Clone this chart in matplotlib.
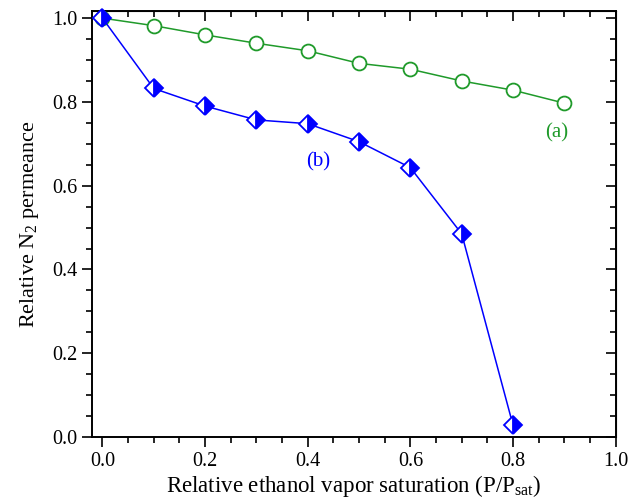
import numpy as np
import matplotlib.pyplot as plt
from matplotlib.ticker import MultipleLocator

plt.rcParams['font.family'] = ['Liberation Serif', 'DejaVu Serif']
plt.rcParams['mathtext.fontset'] = 'custom'
plt.rcParams['mathtext.rm'] = 'Liberation Serif'
plt.rcParams['mathtext.it'] = 'Liberation Serif:italic'

x_a = [0.0, 0.1, 0.2, 0.3, 0.4, 0.5, 0.6, 0.7, 0.8, 0.9]
y_a = [1.0, 0.982, 0.960, 0.940, 0.922, 0.892, 0.878, 0.850, 0.828, 0.797]
x_b = [0.0, 0.1, 0.2, 0.3, 0.4, 0.5, 0.6, 0.7, 0.8]
y_b = [1.0, 0.832, 0.790, 0.757, 0.748, 0.705, 0.643, 0.485, 0.028]

green = '#1f9a2a'
blue = '#0000ff'

fig = plt.figure(figsize=(6.4, 5.0), dpi=100)
ax = fig.add_axes([0.144, 0.126, 0.818, 0.852])

ax.plot(x_a, y_a, color=green, lw=1.1, marker='o', ms=10, mfc='white',
        mec=green, mew=1.3, clip_on=False, zorder=3)
ax.plot(x_b, y_b, color=blue, lw=1.1, marker='D', ms=9, fillstyle='right',
        mfc=blue, mfcalt='white', mec=blue, mew=1.3, clip_on=False, zorder=3)

ax.text(0.885, 0.727, '(a)', color=green, fontsize=15, ha='center', va='center')
ax.text(0.42, 0.656, '(b)', color=blue, fontsize=15, ha='center', va='center')

ax.set_xlim(-0.02, 1.0)
ax.set_ylim(0.0, 1.017)
ax.xaxis.set_major_locator(MultipleLocator(0.2))
ax.xaxis.set_minor_locator(MultipleLocator(0.05))
ax.yaxis.set_major_locator(MultipleLocator(0.2))
ax.yaxis.set_minor_locator(MultipleLocator(0.05))
ax.xaxis.set_major_formatter(lambda v, p: f'{v:.1f}')
ax.yaxis.set_major_formatter(lambda v, p: f'{v:.1f}')
ax.tick_params(which='both', direction='out', labelsize=14.5, width=1.2)
ax.tick_params(which='major', length=7)
ax.tick_params(which='minor', length=4)
ax.tick_params(axis='x', pad=4)
for s in ax.spines.values():
    s.set_linewidth(1.4)

top = ax.secondary_xaxis('top')
top.xaxis.set_major_locator(MultipleLocator(0.2))
top.xaxis.set_minor_locator(MultipleLocator(0.05))
top.tick_params(which='both', direction='in', labeltop=False, width=1.2)
top.tick_params(which='major', length=7)
top.tick_params(which='minor', length=4)
right = ax.secondary_yaxis('right')
right.yaxis.set_major_locator(MultipleLocator(0.2))
right.yaxis.set_minor_locator(MultipleLocator(0.05))
right.tick_params(which='both', direction='in', labelright=False, width=1.2)
right.tick_params(which='major', length=7)
right.tick_params(which='minor', length=4)

ax.set_xlabel('Relative ethanol vapor saturation (P/P$_{\\mathrm{sat}}$)', fontsize=16.5, labelpad=1)
ax.set_ylabel('Relative N$_2$ permeance', fontsize=16, labelpad=8)

fig.savefig('out.png', dpi=100)
